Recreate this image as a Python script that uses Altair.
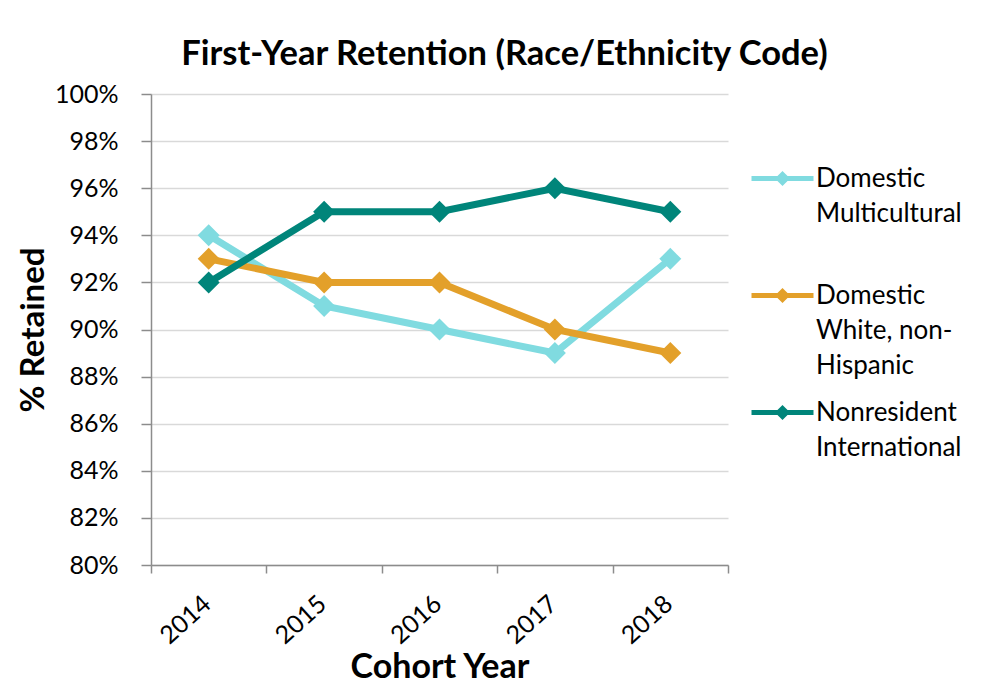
import altair as alt
import pandas as pd

years = ["2014", "2015", "2016", "2017", "2018"]
series_names = ["Domestic Multicultural", "Domestic White, non-Hispanic", "Nonresident International"]
multicultural = [94, 91, 90, 89, 93]
white_non_hispanic = [93, 92, 92, 90, 89]
international = [92, 95, 95, 96, 95]
colors = ["#80dbe0", "#e3a02a", "#00857a"]

legend_lines = {
    "Domestic Multicultural": ["Domestic", "Multicultural", ""],
    "Domestic White, non-Hispanic": ["Domestic", "White, non-", "Hispanic"],
    "Nonresident International": ["Nonresident", "International", ""],
}

rows = []
for name, vals in zip(series_names, [multicultural, white_non_hispanic, international]):
    for y, v in zip(years, vals):
        rows.append({"Cohort Year": y, "Retained": v, "Series": name})
df = pd.DataFrame(rows)

def arr(lines):
    return "[" + ", ".join("'" + s + "'" for s in lines) + "]"

expr = ""
for name in series_names[:-1]:
    expr += f"datum.label == '{name}' ? {arr(legend_lines[name])} : "
expr += arr(legend_lines[series_names[-1]])

FONT = "Lato"

chart = alt.Chart(df).mark_line(
    strokeWidth=7,
    point=alt.OverlayMarkDef(shape="diamond", size=484, filled=True, opacity=1),
).encode(
    x=alt.X(
        "Cohort Year:O",
        bandPosition=0.5,
        scale=alt.Scale(type="band", paddingInner=0, paddingOuter=0),
        axis=alt.Axis(
            title="Cohort Year",
            tickBand="extent",
            labelAngle=318,
            labelFontSize=25,
            labelPadding=18,
            labelOffset=-10,
            tickSize=8,
            titleFontSize=34,
            titleFontWeight="bold",
            titlePadding=2,
            grid=False,
        ),
    ),
    y=alt.Y(
        "Retained:Q",
        scale=alt.Scale(domain=[80, 100], nice=False, zero=False),
        axis=alt.Axis(
            title="% Retained",
            values=list(range(80, 101, 2)),
            labelExpr="datum.value + '%'",
            labelFontSize=25,
            labelPadding=23,
            tickSize=10,
            titleFontSize=33,
            titleFontWeight="bold",
            titlePadding=4,
        ),
    ),
    color=alt.Color(
        "Series:N",
        scale=alt.Scale(domain=series_names, range=colors),
        sort=series_names,
        legend=alt.Legend(
            title=None,
            orient="none",
            legendX=598,
            legendY=51,
            symbolType="M-1,0L1,0M0,-0.13L0.13,0L0,0.13L-0.13,0Z",
            symbolSize=3844,
            symbolStrokeWidth=5,
            labelExpr=expr,
            labelFontSize=26,
            labelBaseline="middle",
            labelOffset=0,
            labelLimit=0,
            rowPadding=-18,
            padding=0,
        ),
    ),
).properties(
    width=577,
    height=471,
    title=alt.TitleParams(
        "First-Year Retention (Race/Ethnicity Code)",
        fontSize=34.5,
        fontWeight="bold",
        font=FONT,
        color="#000000",
        anchor="middle",
        dx=65,
        offset=10,
    ),
    autosize=alt.AutoSizeParams(type="none"),
    padding={"left": 143, "top": 86, "right": 255, "bottom": 117},
).configure(
    style={"guide-label": {"lineHeight": 35}}
).configure_view(
    stroke=None
).configure_axis(
    labelFont=FONT,
    titleFont=FONT,
    labelColor="#000000",
    titleColor="#000000",
    domainColor="#8c8c8c",
    domainWidth=1.5,
    tickColor="#8c8c8c",
    tickWidth=1.5,
    gridColor="#d9d9d9",
    gridWidth=1.5,
).configure_legend(
    labelFont=FONT,
    labelColor="#000000",
)

chart.save("out.html", embed_options={"renderer": "svg", "actions": False})
